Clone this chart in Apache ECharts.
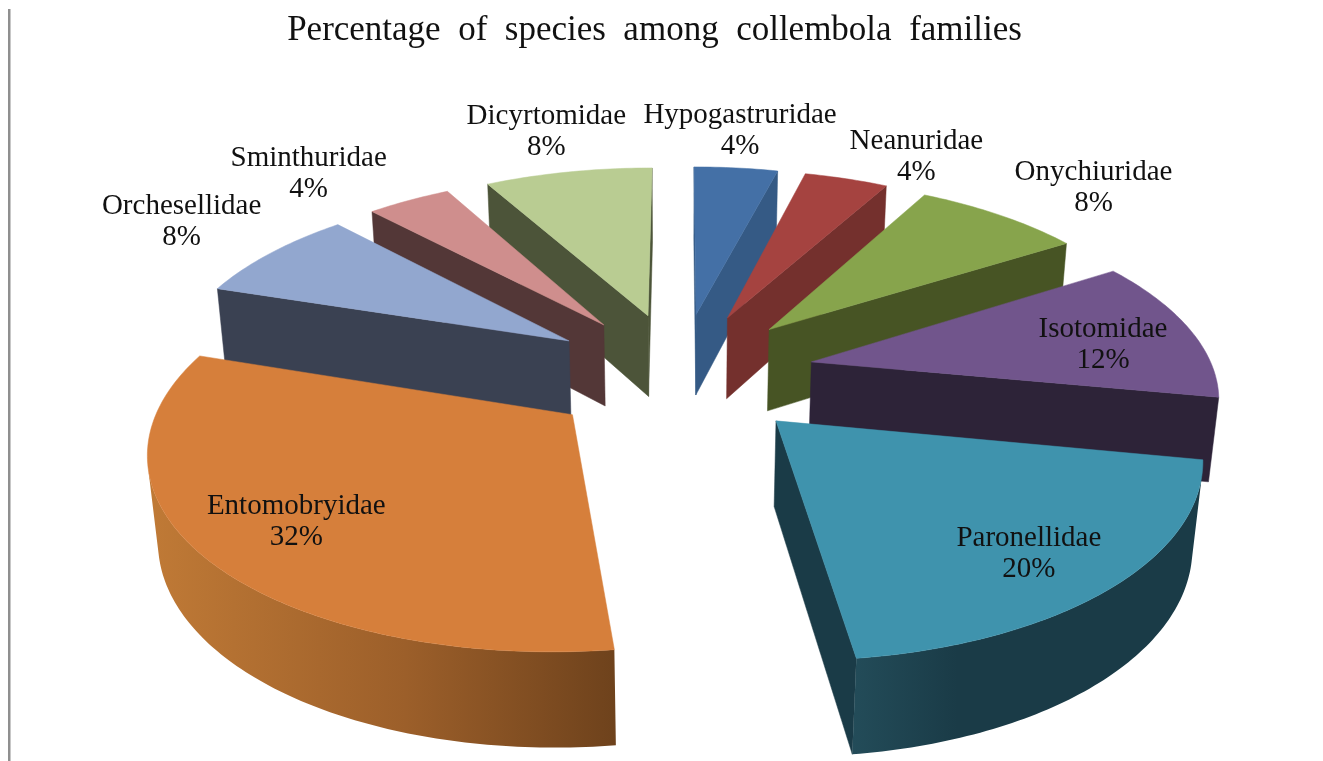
<!DOCTYPE html>
<html>
<head>
<meta charset="utf-8">
<title>Collembola families</title>
<style>html,body{margin:0;padding:0;background:#fff}#chart{width:1323px;height:761px}</style>
<script src="https://cdn.jsdelivr.net/npm/echarts@6/dist/echarts.min.js"></script>
</head>
<body>
<div id="chart"></div>
<script>
// Share of species per family, clockwise from twelve o'clock
const families = ['Hypogastruridae', 'Neanuridae', 'Onychiuridae', 'Isotomidae', 'Paronellidae', 'Entomobryidae', 'Orchesellidae', 'Sminthuridae', 'Dicyrtomidae'];
const shares = [4, 4, 8, 12, 20, 32, 8, 4, 8];

// Slice colours
const topColors = ['#4470a6', '#a54340', '#87a44c', '#71558c', '#3f93ad', '#d67f3b', '#92a7cf', '#cf8e8d', '#b9cc92'];
const sideColors = ['#355a85', '#74302d', '#475424', '#2d2338', '#1a3b47', '#6f431c', '#3a4152', '#533737', '#4c5439'];
const wallStops = {
  4: [{ offset: 0, color: '#234c59' }, { offset: 0.3, color: '#1a3b47' }, { offset: 1, color: '#1a3b47' }],
  5: [{ offset: 0, color: '#c07a36' }, { offset: 0.55, color: '#9c5f2a' }, { offset: 1, color: '#6e421c' }]
};

// Label offsets in pixels from the middle of each slice's rim
const labelOffsets = [[4, -37], [70, -22], [93, -27], [-86, 16], [-84, -33], [93, -34], [-89, -31], [-100, -27], [-22, -40]];

// Scene: pie plane tilted toward the viewer, seen with a perspective camera
const centerX = 680, centerY = 373.5;
const radius = 403, explode = 135, thickness = 96;
const tilt = 27.6 * Math.PI / 180, cameraDist = 2330;

function project(x, y, z) {
  const v = y * Math.sin(tilt) - z * Math.cos(tilt);
  const w = y * Math.cos(tilt) + z * Math.sin(tilt);
  const s = cameraDist / (cameraDist - w);
  return [centerX + x * s, centerY + v * s];
}

function signedArea(pts) {
  let a = 0;
  for (let i = 0; i < pts.length; i++) {
    const p = pts[i], q = pts[(i + 1) % pts.length];
    a += p[0] * q[1] - q[0] * p[1];
  }
  return a / 2;
}

const total = shares.reduce((a, b) => a + b, 0);
const startAngles = [];
shares.reduce((acc, v, i) => { startAngles[i] = acc / total * 2 * Math.PI; return acc + v; }, 0);

// Far slices are painted first
const paintOrder = families.map((_, i) => i).sort((a, b) => {
  const mid = i => startAngles[i] + shares[i] / total * Math.PI;
  return Math.cos(mid(b)) - Math.cos(mid(a));
});

function renderSlice(params, api) {
  const i = api.value(0), share = api.value(1);
  const a0 = startAngles[i], sweep = share / total * 2 * Math.PI, a1 = a0 + sweep, mid = a0 + sweep / 2;
  const ox = explode * Math.sin(mid), oy = -explode * Math.cos(mid);
  const rim = (a, z) => project(ox + radius * Math.sin(a), oy - radius * Math.cos(a), z);
  const apexTop = project(ox, oy, 0), apexBottom = project(ox, oy, -thickness);
  const children = [];
  const poly = (points, fill) => children.push({
    type: 'polygon', shape: { points: points },
    style: { fill: fill, stroke: typeof fill === 'string' ? fill : null, lineWidth: typeof fill === 'string' ? 0.5 : 0 }
  });

  // Cut faces: kept only when they turn toward the camera
  const startFace = [apexTop, rim(a0, 0), rim(a0, -thickness), apexBottom];
  const endFace = [rim(a1, 0), apexTop, apexBottom, rim(a1, -thickness)];
  if (signedArea(startFace) < 0) poly(startFace, sideColors[i]);
  if (signedArea(endFace) < 0) poly(endFace, sideColors[i]);

  // Curved outer wall: visible stretch only
  const steps = Math.max(12, Math.round(share * 4));
  const wallTop = [], wallBottom = [];
  for (let k = 0; k < steps; k++) {
    const p = a0 + sweep * k / steps, q = a0 + sweep * (k + 1) / steps;
    const quad = [rim(p, 0), rim(q, 0), rim(q, -thickness), rim(p, -thickness)];
    if (signedArea(quad) < 0) {
      if (!wallTop.length) { wallTop.push(quad[0]); wallBottom.push(quad[3]); }
      wallTop.push(quad[1]); wallBottom.push(quad[2]);
    }
  }
  if (wallTop.length) {
    const fill = wallStops[i]
      ? new echarts.graphic.LinearGradient(0, 0, 1, 0, wallStops[i], false)
      : sideColors[i];
    poly(wallTop.concat(wallBottom.reverse()), fill);
  }

  // Top face
  const top = [apexTop];
  for (let k = 0; k <= steps; k++) top.push(rim(a0 + sweep * k / steps, 0));
  poly(top, topColors[i]);

  // Family name and share
  const anchor = rim(mid, 0);
  children.push({
    type: 'text', z2: 100,
    style: {
      x: anchor[0] + labelOffsets[i][0], y: anchor[1] + labelOffsets[i][1],
      text: families[i] + '\n' + share + '%',
      fill: '#111', font: '29px "Liberation Serif"', lineHeight: 31,
      align: 'center', verticalAlign: 'middle'
    }
  });
  return { type: 'group', children: children };
}

const chart = echarts.init(document.getElementById('chart'), null, { renderer: 'canvas' });
chart.setOption({
  animation: false,
  backgroundColor: '#ffffff',
  title: {
    text: 'Percentage  of  species  among  collembola  families',
    left: 649.5, top: 8, textAlign: 'center',
    textStyle: { fontFamily: 'Liberation Serif', fontSize: 35, fontWeight: 'normal', color: '#111' }
  },
  graphic: [{
    type: 'rect', shape: { x: 8, y: 9, width: 2.5, height: 752 },
    style: { fill: '#8f8f8f' }, silent: true
  }],
  series: [{
    type: 'custom',
    coordinateSystem: 'none',
    silent: true,
    renderItem: renderSlice,
    data: paintOrder.map(i => [i, shares[i]])
  }]
});
</script>
</body>
</html>
